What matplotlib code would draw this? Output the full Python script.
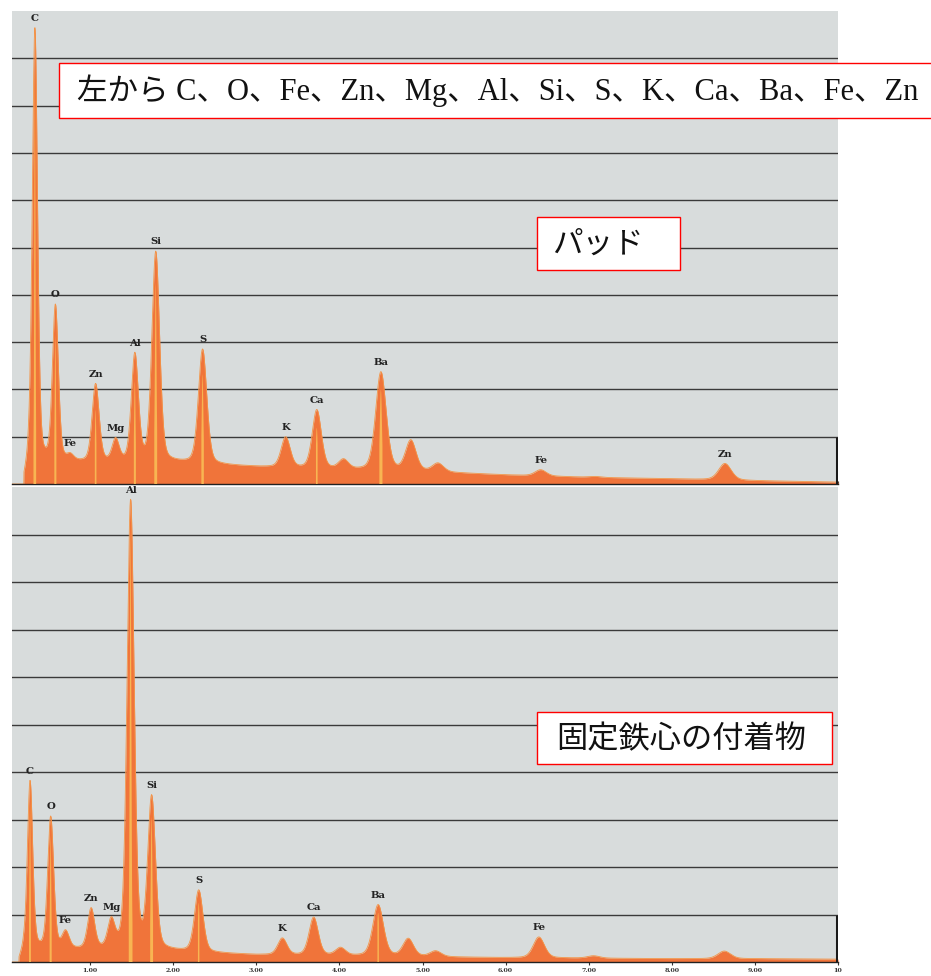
import numpy as np
import matplotlib
matplotlib.use("Agg")
import matplotlib.pyplot as plt
from matplotlib.patches import Rectangle

# ---------------- data ----------------
# X-ray line energies (keV) and peak widths (FWHM, keV)
line_energy = [0.277, 0.525, 0.705, 1.012, 1.254, 1.487, 1.740, 2.307,
               3.313, 3.690, 4.013, 4.466, 4.828, 5.157, 6.400, 7.058, 8.631]
line_fwhm = [0.075, 0.085, 0.10, 0.10, 0.10, 0.10, 0.11, 0.12,
             0.13, 0.13, 0.14, 0.15, 0.15, 0.16, 0.16, 0.17, 0.18]

# peak heights above continuum (grid units) – upper panel (pad)
pad_counts = [9.20, 3.28, 0.12, 1.64, 0.46, 2.26, 4.44, 2.42,
              0.64, 1.24, 0.20, 2.08, 0.64, 0.18, 0.13, 0.02, 0.35]
# lower panel (deposit on the fixed core)
core_counts = [3.54, 2.77, 0.35, 0.84, 0.56, 9.45, 3.18, 1.30,
               0.35, 0.80, 0.16, 1.08, 0.37, 0.12, 0.44, 0.05, 0.16]

# continuum level
bg_energy = [0.14, 0.20, 0.50, 1.0, 2.0, 3.0, 4.0, 5.0, 6.0, 7.0, 8.0, 9.0, 10.0]
pad_bg = [0.00, 0.40, 0.45, 0.45, 0.44, 0.36, 0.30, 0.26, 0.19, 0.14, 0.11, 0.07, 0.04]
core_bg = [0.00, 0.25, 0.26, 0.25, 0.22, 0.15, 0.13, 0.11, 0.09, 0.08, 0.07, 0.07, 0.06]

# peak labels
pad_labels = ["C", "O", "Fe", "Zn", "Mg", "Al", "Si", "S", "K", "Ca", "Ba", "Fe", "Zn"]
pad_label_energy = [0.277, 0.525, 0.705, 1.012, 1.254, 1.487, 1.740, 2.307,
                    3.313, 3.690, 4.466, 6.400, 8.631]
core_labels = ["C", "O", "Fe", "Zn", "Mg", "Al", "Si", "S", "K", "Ca", "Ba", "Fe"]
core_label_energy = [0.277, 0.525, 0.705, 1.012, 1.254, 1.487, 1.740, 2.307,
                     3.313, 3.690, 4.466, 6.400]

tick_values = [1, 2, 3, 4, 5, 6, 7, 8, 9, 10]
tick_labels = ["1.00", "2.00", "3.00", "4.00", "5.00", "6.00", "7.00", "8.00", "9.00", "10"]

title_text = "左から C、O、Fe、Zn、Mg、Al、Si、S、K、Ca、Ba、Fe、Zn"
pad_title = "パッド"
core_title = "固定鉄心の付着物"

# ---------------- helpers ----------------
E = np.linspace(0.0, 10.0, 4001)
ETA = 0.3


def spectrum(amps, bg, width_scale=1.0, with_bg=True):
    y = np.zeros_like(E)
    for e0, a, w in zip(line_energy, amps, line_fwhm):
        w = w * width_scale
        s = w / 2.3548
        g = np.exp(-0.5 * ((E - e0) / s) ** 2)
        l = 1.0 / (1.0 + (2 * (E - e0) / w) ** 2)
        y += a * ((1 - ETA) * g + ETA * l)
    if with_bg:
        y += np.interp(E, bg_energy, bg)
    y[E < 0.145] = 0.0
    return y


W, H = 931, 976
fig = plt.figure(figsize=(W / 100, H / 100), dpi=100)
fig.patch.set_facecolor("white")

GRAY = "#d8dcdc"
ORANGE = "#f0743a"
CORE = "#f8b552"
LINE = "#3a3a3a"


def make_panel(rect, amps, bg, labels, label_e, xlim, show_ticklabels):
    ax = fig.add_axes(rect)
    ax.set_facecolor(GRAY)
    ax.set_xlim(*xlim)
    ax.set_ylim(0, 10)
    for y in range(1, 10):
        ax.axhline(y, color=LINE, lw=1.0, zorder=1)
    y = spectrum(amps, bg)
    ax.fill_between(E, 0, y, color=ORANGE, lw=0, zorder=2)
    ax.plot(E, y, color="#f39548", lw=0.6, zorder=2)
    yc = spectrum([a * 0.96 for a in amps], bg, width_scale=0.22, with_bg=False)
    ax.fill_between(E, 0, yc, where=yc > 0.8, color=CORE, lw=0, zorder=3)
    for name, e0 in zip(labels, label_e):
        yp = np.interp(e0, E, y)
        ax.text(e0, yp + 0.1, name, ha="center", va="bottom", fontsize=7.3,
                fontweight="bold", family="DejaVu Serif", color="#222222", zorder=5)
    ax.plot([xlim[1] - 0.012] * 2, [0, 1], color="#1a1a1a", lw=2.2, zorder=4,
            solid_capstyle="butt")
    for s in ["top", "left", "right"]:
        ax.spines[s].set_visible(False)
    ax.spines["bottom"].set_color("#222222")
    ax.spines["bottom"].set_linewidth(1.0)
    ax.set_yticks([])
    ax.set_xticks(tick_values)
    if show_ticklabels:
        ax.set_xticklabels(tick_labels, fontsize=4.5, fontweight="bold",
                           family="DejaVu Serif", color="#333333")
        ax.tick_params(axis="x", direction="out", length=2.5, width=0.8,
                       pad=1.5, color="#333333")
    else:
        ax.set_xticklabels([])
        ax.tick_params(axis="x", direction="in", length=2.5, width=0.8,
                       color="#333333")
    return ax


ax1 = make_panel([12 / W, 1 - 484 / H, 826 / W, 473 / H], pad_counts, pad_bg,
                 pad_labels, pad_label_energy, (0.0, 10.0), False)
ax2 = make_panel([12 / W, 1 - 962 / H, 826 / W, 475 / H], core_counts, core_bg,
                 core_labels, core_label_energy, (0.06, 10.0), True)


def fig_box(x0, y0, x1, y1):
    r = Rectangle((x0 / W, 1 - y1 / H), (x1 - x0) / W, (y1 - y0) / H,
                  transform=fig.transFigure, facecolor="white",
                  edgecolor="#ff0000", lw=1.0, zorder=10)
    fig.add_artist(r)


fig_box(59, 63, 940, 118)
fig.text(77 / W, 1 - 91 / H, title_text, ha="left", va="center", fontsize=22,
         family=["Liberation Serif", "Noto Sans CJK JP"], color="#111111", zorder=11)

fig_box(537, 217, 680, 270)
fig.text(598 / W, 1 - 244 / H, pad_title, ha="center", va="center", fontsize=22,
         family=["Noto Sans CJK JP"], color="#111111", zorder=11)

fig_box(537, 712, 832, 764)
fig.text(681 / W, 1 - 739 / H, core_title, ha="center", va="center", fontsize=22.5,
         family=["Noto Sans CJK JP"], color="#111111", zorder=11)

fig.savefig("out.png", dpi=100, facecolor="white")
